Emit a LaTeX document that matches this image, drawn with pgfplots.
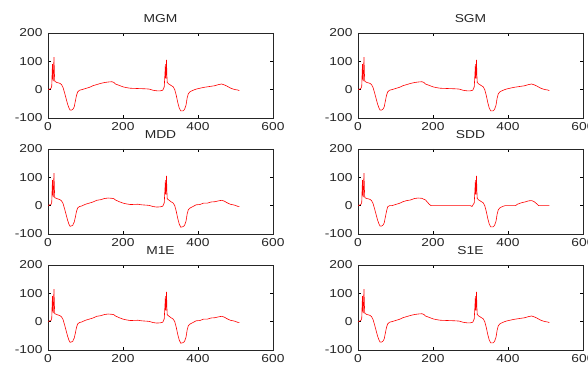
\documentclass[border=0pt]{standalone}
\usepackage{fontspec}
\setmainfont{Liberation Sans}
\newfontfamily\widefont[FakeStretch=1.2]{Liberation Sans}
\usepackage{pgfplots}
\usepackage{pgfplotstable}
\pgfplotsset{compat=1.18}

\pgfplotstableread{
x y
0 0
4 2
8 5
10 12
11 60
12 90
13 40
14 30
15 80
16 115
17 60
18 30
20 28
24 25
28 24
32 22
36 18
40 8
44 -10
48 -30
52 -50
56 -65
59 -72
63 -72
67 -68
70 -60
73 -40
76 -20
79 -8
84 -2
90 0
100 4
110 8
120 14
130 18
140 22
150 25
160 27
170 28
175 26
180 20
190 15
200 10
210 7
220 5
240 4
260 3
270 2
280 -2
290 -4
300 -4
306 -2
310 10
312 60
313 90
314 40
315 60
316 105
317 50
318 25
322 20
328 15
334 10
338 0
342 -20
346 -45
350 -65
354 -75
360 -75
364 -70
368 -55
371 -30
374 -15
378 -8
385 -3
395 2
405 5
415 8
425 10
435 12
445 14
455 18
463 20
470 17
478 12
486 6
494 2
500 0
505 -1
510 -3
}\base

\pgfplotstableread{
x y
0 0
4 3
8 4
10 12
11 60
12 90
13 40
14 30
15 80
16 115
17 60
18 28
20 27
24 25
28 23
32 21
36 17
40 8
44 -10
48 -30
52 -50
56 -66
59 -73
63 -71
66 -70
68 -62
70 -58
73 -40
76 -20
79 -8
84 -3
90 -1
100 5
110 9
120 13
130 19
140 21
150 25
160 27
170 26
175 25
180 20
190 14
200 9
210 6
220 4
240 5
250 3
260 2
270 1
280 -3
290 -5
300 -4
306 -2
310 10
312 60
313 90
314 40
315 60
316 105
317 50
318 24
322 20
328 14
334 9
338 0
342 -20
346 -45
350 -65
354 -76
360 -74
364 -70
368 -55
371 -30
374 -15
378 -9
385 -4
395 3
405 4
415 9
425 9
435 13
445 14
455 17
463 19
470 16
478 10
486 5
494 3
500 1
505 -2
510 -3
}\noisy

\pgfplotstableread{
x y
0 0
4 2
8 5
10 12
11 60
12 90
13 40
14 30
15 80
16 115
17 60
18 30
20 27
24 25
28 24
32 22
36 18
40 8
44 -10
48 -30
52 -50
56 -65
59 -72
63 -72
67 -68
70 -60
73 -40
76 -20
79 -4
84 0
90 0
100 4
110 8
120 14
130 18
140 20
150 25
160 27
170 26
180 20
190 5
195 0
300 0
304 -3
310 10
312 60
313 90
314 40
315 60
316 105
317 50
318 25
322 20
328 15
334 10
338 0
342 -20
346 -45
350 -65
354 -75
360 -75
364 -70
368 -55
371 -30
374 -15
378 -8
385 -3
392 0
420 0
425 5
435 10
445 13
455 17
463 18
470 14
478 5
482 0
510 0
}\flat

\pgfplotsset{
  every axis/.append style={
    scale only axis,
    width=225pt, height=85pt,
    xmin=0, xmax=600, ymin=-100, ymax=200,
    xtick={0,200,400,600}, ytick={-100,0,100,200},
    tick align=inside, tick pos=both,
    major tick length=3pt,
    axis line style={line width=0.7pt, black!85},
    tick style={line width=0.5pt, black},
    /pgf/number format/assume math mode=true,
    tick label style={font=\widefont\fontsize{11.5}{13}\selectfont, text=black!85},
    title style={font=\widefont\fontsize{11.5}{13}\selectfont, text=black!85, at={(0.5,1)}, anchor=south, yshift=3pt, inner sep=1pt},
    xticklabel style={yshift=-1pt},
    yticklabel style={xshift=-2pt},
    anchor=south west,
  },
}

\begin{document}
\begin{tikzpicture}
\path[use as bounding box] (0pt,0pt) rectangle (588pt,365pt);
\begin{axis}[at={(48pt,247pt)}, title={MGM}]
\addplot[red, line width=0.6pt] table {\base};
\end{axis}
\begin{axis}[at={(358pt,247pt)}, title={SGM}]
\addplot[red, line width=0.6pt] table {\base};
\end{axis}
\begin{axis}[at={(48pt,131pt)}, title={MDD}]
\addplot[red, line width=0.6pt] table {\noisy};
\end{axis}
\begin{axis}[at={(358pt,131pt)}, title={SDD}]
\addplot[red, line width=0.6pt] table {\flat};
\end{axis}
\begin{axis}[at={(48pt,15pt)}, title={M1E}]
\addplot[red, line width=0.6pt] table {\noisy};
\end{axis}
\begin{axis}[at={(358pt,15pt)}, title={S1E}]
\addplot[red, line width=0.6pt] table {\base};
\end{axis}
\end{tikzpicture}
\end{document}
